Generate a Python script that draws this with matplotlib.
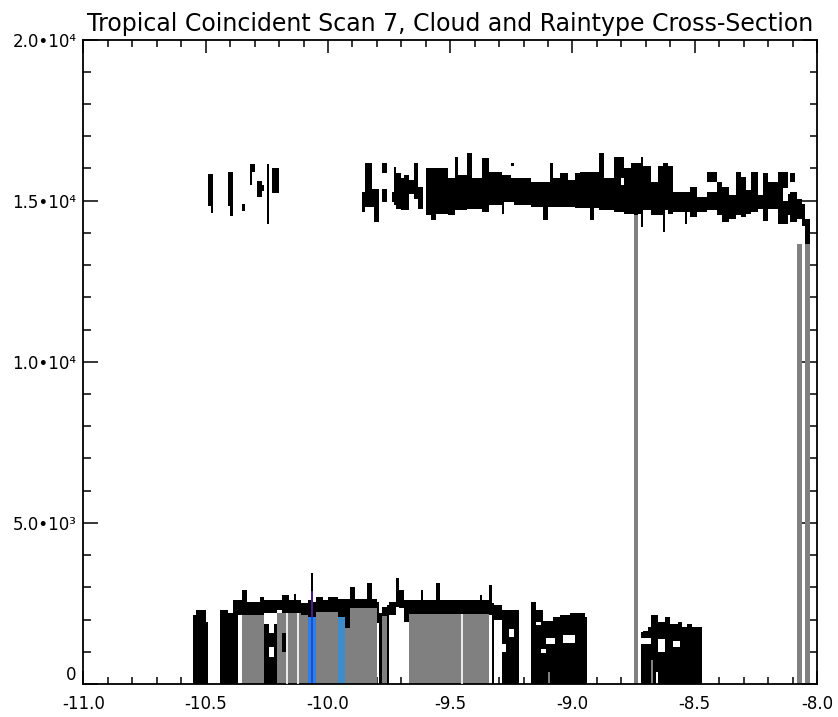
import numpy as np
import matplotlib
matplotlib.use('Agg')
import matplotlib.pyplot as plt
from matplotlib.ticker import MultipleLocator, FixedLocator

plt.rcParams['font.family'] = ['DejaVu Sans']

# footprint grid along the scan (deg)
x0 = -10.56
dx = 0.01

# runs of footprints: (first column, number of columns, base m, top m)
upper_cloud = [
    (7, 2, 14840, 15840), (8, 1, 14625, 14840), (15, 2, 14840, 15875), (16, 1, 14530, 14840),
    (21, 1, 14690, 14900), (24, 1, 15470, 16150), (25, 1, 15900, 16150), (27, 2, 15100, 15600),
    (29, 1, 15300, 15500), (31, 1, 15400, 16150), (31, 1, 14280, 15400), (33, 3, 15250, 16000),
    (70, 1, 14645, 15270), (71, 3, 14800, 16156), (74, 1, 14800, 15375), (75, 2, 14335, 15375),
    (78, 2, 14960, 15375), (78, 2, 15844, 16156), (82, 1, 14960, 15270), (83, 1, 14855, 16050),
    (84, 2, 14750, 15844), (86, 1, 14700, 15690), (87, 2, 14700, 15790), (89, 2, 15220, 15635),
    (91, 2, 15060, 16156), (93, 2, 14750, 15428), (96, 2, 14540, 16000), (98, 2, 14385, 16000),
    (100, 5, 14590, 16000), (105, 3, 14540, 15690), (108, 1, 14700, 16365), (109, 4, 14700, 15790),
    (113, 2, 14750, 16470), (115, 4, 14750, 15690), (119, 3, 14645, 16310), (122, 5, 14855, 15900),
    (127, 1, 14590, 15800), (128, 3, 14960, 15800), (131, 1, 16060, 16156), (131, 1, 14960, 15700),
    (132, 7, 14880, 15690), (139, 5, 14800, 15585), (144, 2, 14385, 15585), (146, 1, 14800, 15585),
    (147, 1, 14800, 16156), (148, 3, 14800, 15690), (151, 3, 14800, 15844), (154, 3, 14800, 15640),
    (157, 2, 14780, 15850), (159, 4, 14780, 15896), (163, 2, 14385, 15896), (165, 2, 14780, 15896),
    (167, 2, 14700, 16470), (169, 4, 14700, 15690), (173, 1, 14650, 16365), (174, 3, 14650, 16365),
    (177, 3, 14600, 16000), (180, 1, 14590, 16156), (181, 2, 14540, 16156), (183, 1, 14590, 16156),
    (184, 1, 14180, 16365), (185, 3, 14700, 16060), (188, 3, 14540, 15585), (191, 2, 14540, 16060),
    (193, 1, 14030, 16156), (194, 1, 14700, 16156), (195, 2, 14590, 16060), (197, 4, 14650, 15270),
    (201, 1, 14650, 15270), (202, 1, 14280, 15270), (203, 1, 14650, 15270), (204, 3, 14480, 15420),
    (207, 4, 14650, 15110), (211, 4, 14700, 15900), (215, 2, 14540, 15585), (217, 3, 14330, 15420),
    (220, 3, 14430, 15160), (223, 2, 14540, 15900), (225, 2, 14480, 15740), (227, 2, 14590, 15330),
    (229, 3, 14650, 15900), (232, 2, 14750, 15160), (234, 2, 14380, 15850), (236, 4, 14750, 15585),
    (240, 4, 14280, 15900), (244, 1, 14540, 15200), (245, 2, 15585, 15850), (245, 3, 14330, 15270),
    (248, 2, 14430, 15060), (250, 1, 14200, 14900), (251, 2, 13650, 14440),
]

lower_cloud = [
    (1, 1, 0, 2130), (2, 4, 0, 2290), (6, 1, 0, 1920), (12, 3, 0, 2290), (15, 2, 0, 2200),
    (17, 2, 0, 2600), (19, 2, 2130, 2600), (21, 2, 2130, 2910), (23, 5, 2130, 2550),
    (28, 2, 2130, 2700), (30, 5, 2190, 2600), (30, 5, 0, 1850), (35, 2, 2290, 2600),
    (37, 3, 2200, 2750), (37, 2, 990, 1580), (40, 2, 2200, 2600), (42, 1, 2200, 2800),
    (43, 2, 2200, 2600), (45, 3, 2130, 2500), (48, 1, 2070, 2600), (49, 1, 2900, 3440),
    (50, 1, 2070, 2550), (51, 3, 2250, 2700), (54, 2, 2250, 2600), (56, 4, 2250, 2700),
    (60, 3, 2080, 2650), (63, 2, 1740, 2360), (63, 13, 2360, 2650), (65, 2, 2360, 3000),
    (72, 2, 2360, 3130), (76, 1, 1900, 2550), (77, 1, 0, 2200), (78, 2, 2100, 2400),
    (80, 1, 0, 2450), (81, 3, 2130, 2550), (84, 1, 2380, 3290), (85, 2, 2350, 2910),
    (87, 2, 1910, 2600), (89, 33, 2160, 2600), (94, 1, 2160, 2910), (100, 2, 2160, 3130),
    (118, 1, 2160, 2750), (122, 1, 2130, 3070), (123, 1, 0, 2500), (124, 3, 2000, 2450),
    (127, 7, 0, 2290), (139, 2, 0, 2540), (141, 3, 0, 2290), (144, 2, 0, 1970),
    (146, 1, 370, 1970), (147, 1, 0, 1970), (148, 3, 0, 2070), (151, 4, 0, 2130),
    (155, 6, 0, 2190), (161, 1, 0, 2070), (184, 1, 0, 1600), (185, 2, 0, 1660),
    (187, 1, 0, 1760), (188, 1, 745, 2130), (189, 1, 0, 2130), (190, 1, 370, 2130),
    (191, 3, 0, 1910), (194, 2, 0, 2070), (196, 3, 0, 1850), (199, 2, 0, 1910),
    (201, 2, 0, 1760), (203, 2, 0, 1850), (205, 4, 0, 1760),
]

# white gaps inside the cloud mask
cloud_gaps = [
    (32, 2, 1580, 1850), (32, 2, 840, 1150), (127, 2, 1000, 1250), (130, 2, 1450, 1700),
    (141, 2, 1830, 1920), (143, 2, 950, 1100), (145, 4, 1240, 1420), (152, 5, 1260, 1530),
    (176, 1, 15480, 15690), (184, 4, 1250, 1420), (191, 3, 1000, 1400), (197, 3, 1150, 1350),
    (211, 4, 15270, 15585), (242, 2, 15000, 15400),
]

# rain type columns: stratiform, convective, other
rain_strat = [
    (21, 9, 0, 2130), (35, 13, 0, 2200), (51, 9, 0, 2250), (63, 13, 0, 2360), (78, 2, 0, 2100),
    (89, 33, 0, 2160), (146, 1, 0, 370), (181, 2, 0, 14540), (188, 1, 0, 745),
    (248, 2, 0, 13650), (251, 2, 0, 13650),
]
rain_conv = [(48, 3, 0, 2070)]
rain_conv_core = [(49, 1, 0, 2070)]
rain_other = [(60, 3, 0, 2080)]
conv_cloud = [(49, 1, 2070, 2900)]
strat_breaks_x = [-10.168, -10.123, -9.452]
strat_breaks_top = [2200, 2200, 2160]


def draw_runs(ax, runs, color, z):
    r = np.array(runs, dtype=float)
    col, n, bot, top = r.T
    ax.bar(x0 + col * dx, top - bot, width=n * dx, bottom=bot, align='edge',
           color=color, linewidth=0, antialiased=False, zorder=z)


fig = plt.figure(figsize=(8.38, 7.17), dpi=100)
ax = fig.add_axes([0.0996, 0.046, 0.8753, 0.8989])

draw_runs(ax, rain_strat, '#808080', 2)
draw_runs(ax, rain_conv, '#2f7fe8', 2)
draw_runs(ax, rain_conv_core, '#1c4fcf', 2.1)
draw_runs(ax, rain_other, '#3d8ccc', 2)
draw_runs(ax, upper_cloud, 'black', 3)
draw_runs(ax, lower_cloud, 'black', 3)
draw_runs(ax, conv_cloud, '#4a1a8c', 3.5)
draw_runs(ax, cloud_gaps, 'white', 4)
ax.vlines(strat_breaks_x, 0, strat_breaks_top, color='white', linewidth=1.2, zorder=4)

ax.set_xlim(-11, -8)
ax.set_ylim(0, 20000)
xt = np.arange(-11, -7.99, 0.5)
ax.set_xticks(xt)
ax.set_xticklabels(['%.1f' % v for v in xt])
ax.xaxis.set_minor_locator(MultipleLocator(0.1))
ax.yaxis.set_major_locator(FixedLocator([0, 5000, 10000, 15000, 20000]))
ax.yaxis.set_minor_locator(MultipleLocator(1000))
ax.set_yticklabels(['0', '5.0\u202210\u00b3', '1.0\u202210\u2074', '1.5\u202210\u2074', '2.0\u202210\u2074'])
# the zero label sits just above the corner in the reference
ax.get_yticklabels()[0].set_verticalalignment('bottom')

for s in ax.spines.values():
    s.set_linewidth(1.3)
ax.tick_params(which='both', direction='in', top=True, right=True, width=1.1, labelsize=12)
ax.tick_params(axis='x', which='major', length=9.4, pad=8)
ax.tick_params(axis='x', which='minor', length=4.7)
ax.tick_params(axis='y', which='major', length=10.8, pad=5)
ax.tick_params(axis='y', which='minor', length=5.4)

ax.set_title('Tropical Coincident Scan 7, Cloud and Raintype Cross-Section', fontsize=17, pad=6)

fig.savefig('out.png', dpi=100)
